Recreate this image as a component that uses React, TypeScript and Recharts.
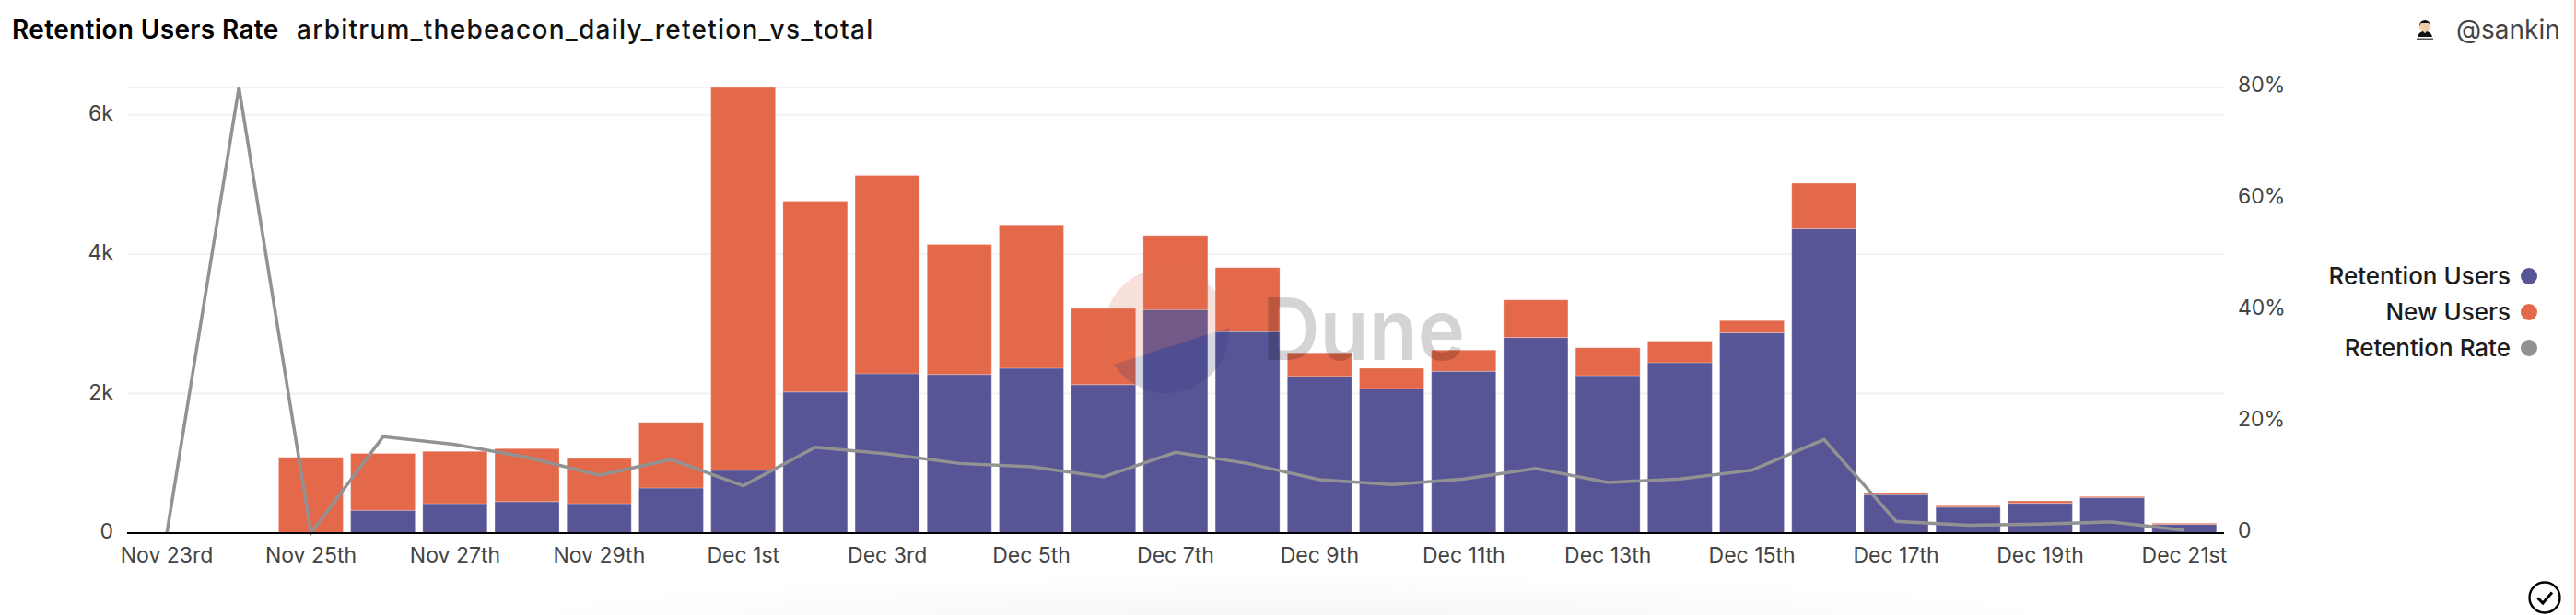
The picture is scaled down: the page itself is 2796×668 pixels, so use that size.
import React from 'react';
import { ComposedChart, Bar, Line, XAxis, YAxis, CartesianGrid, Legend } from 'recharts';

const days = [
  'Nov 23rd', 'Nov 24th', 'Nov 25th', 'Nov 26th', 'Nov 27th', 'Nov 28th', 'Nov 29th', 'Nov 30th',
  'Dec 1st', 'Dec 2nd', 'Dec 3rd', 'Dec 4th', 'Dec 5th', 'Dec 6th', 'Dec 7th', 'Dec 8th', 'Dec 9th',
  'Dec 10th', 'Dec 11th', 'Dec 12th', 'Dec 13th', 'Dec 14th', 'Dec 15th', 'Dec 16th', 'Dec 17th',
  'Dec 18th', 'Dec 19th', 'Dec 20th', 'Dec 21st',
];
const retentionUsers = [
  0, 4, 0, 327, 423, 451, 423, 648, 901, 2023, 2287, 2276, 2366, 2130, 3206, 2890, 2248, 2073, 2321,
  2806, 2259, 2445, 2873, 4366, 552, 372, 428, 507, 124,
];
const totalUsers = [
  4, 5, 1087, 1144, 1172, 1211, 1070, 1589, 6394, 4761, 5132, 4141, 4423, 3223, 4270, 3808, 2586, 2366,
  2625, 3346, 2659, 2755, 3048, 5020, 580, 394, 462, 524, 141,
];
const retentionRate = [
  0, 80, 0, 17.3, 15.9, 13.6, 10.4, 13.2, 8.5, 15.4, 14.2, 12.5, 11.9, 10.1, 14.5, 12.5, 9.6, 8.7, 9.7,
  11.6, 9.1, 9.7, 11.3, 16.8, 2.1, 1.4, 1.6, 2.0, 0.5,
];
const leftTicks = [0, 2000, 4000, 6000];
const rightTicks = [0, 20, 40, 60, 80];

const data = days.map((day, i) => ({
  day,
  retention: retentionUsers[i],
  newUsers: totalUsers[i] - retentionUsers[i],
  rate: retentionRate[i],
}));

const FONT = 'Inter, sans-serif';
const PURPLE = '#585596';
const ORANGE = '#e3694a';
const GRAY = '#929292';

const text = (left: number, top: number, s: React.CSSProperties = {}): React.CSSProperties => ({
  position: 'absolute',
  left,
  top,
  fontFamily: FONT,
  whiteSpace: 'nowrap',
  ...s,
});

const LegendList = ({ payload }: any) => (
  <div style={{ fontFamily: FONT }}>
    {(payload || []).map((p: any) => (
      <div
        key={p.value}
        style={{ display: 'flex', justifyContent: 'flex-end', alignItems: 'center', height: 39, fontSize: 26, fontWeight: 500, color: '#1c1c1c' }}
      >
        <span>{p.value}</span>
        <span style={{ width: 18, height: 18, borderRadius: 9, background: p.color, marginLeft: 11 }} />
      </div>
    ))}
  </div>
);

const Watermark = () => (
  <svg width={2796} height={668} style={{ position: 'absolute', left: 0, top: 0, pointerEvents: 'none' }}>
    <path d="M1209 396 L1334 356 A68 68 0 1 0 1209 396 Z" fill="rgba(227,105,74,0.2)" />
    <path d="M1209 396 L1334 356 A68 68 0 0 1 1209 396 Z" fill="rgba(40,50,120,0.2)" />
    <text x={1370} y={391} fontFamily={FONT} fontSize={93} fontWeight={600} fill="rgba(0,0,0,0.17)" textLength={220} lengthAdjust="spacingAndGlyphs">
      Dune
    </text>
  </svg>
);

const Avatar = () => (
  <svg width={20} height={26} style={{ position: 'absolute', left: 2622, top: 19 }}>
    <circle cx={10} cy={10} r={6} fill="#f0cdaa" />
    <path d="M4 9 A6 6 0 0 1 16 9 L14 6 L6 6 Z" fill="#111" />
    <path d="M2 21 Q3 16 8 15 L10 17 L12 15 Q17 16 18 21 Z" fill="#111" />
    <rect x={1} y={22.5} width={18} height={1.5} fill="#555" />
  </svg>
);

const CheckIcon = () => (
  <svg width={40} height={40} style={{ position: 'absolute', left: 2742, top: 629 }}>
    <circle cx={20} cy={20} r={16.5} fill="none" stroke="#000" strokeWidth={2.4} />
    <path d="M12.5 20.5 L18 26 L28 14.5" fill="none" stroke="#000" strokeWidth={3} />
  </svg>
);

export default function App() {
  return (
    <div style={{ position: 'absolute', left: 0, top: 0, width: 2796, height: 668, overflow: 'hidden', background: '#fff' }}>
      <div style={{ position: 'absolute', left: 550, top: 625, width: 1700, height: 43, background: 'radial-gradient(ellipse 50% 100% at 50% 100%, #f6f6f6, #ffffff)' }} />
      <ComposedChart
        width={2796}
        height={668}
        data={data}
        barCategoryGap={4}
        margin={{ top: 95, right: 322, bottom: 49, left: 78 }}
        style={{ position: 'absolute', left: 0, top: 0 }}
      >
        <CartesianGrid yAxisId="left" vertical={false} stroke="#f2f2f2" strokeWidth={2} />
        <XAxis
          dataKey="day"
          interval={1}
          height={40}
          padding={{ left: 4, right: 4 }}
          axisLine={{ stroke: '#000', strokeWidth: 2 }}
          tickLine={false}
          tickMargin={10}
          tick={{ fontSize: 23, fill: '#444', fontFamily: FONT }}
        />
        <YAxis
          yAxisId="left"
          width={60}
          domain={[0, 6394]}
          ticks={leftTicks}
          axisLine={false}
          tickLine={false}
          tickMargin={9}
          tickFormatter={(v: number) => (v === 0 ? '0' : `${v / 1000}k`)}
          tick={{ fontSize: 23, fill: '#444', fontFamily: FONT, dy: -2 }}
        />
        <YAxis
          yAxisId="right"
          orientation="right"
          width={60}
          domain={[0, 80]}
          ticks={rightTicks}
          axisLine={false}
          tickLine={false}
          tickMargin={9}
          tickFormatter={(v: number) => (v === 0 ? '0' : `${v}%`)}
          tick={{ fontSize: 23, fill: '#444', fontFamily: FONT, dy: -3 }}
        />
        <Bar yAxisId="left" dataKey="retention" name="Retention Users" stackId="a" fill={PURPLE} stroke="rgba(255,255,255,0.25)" isAnimationActive={false} />
        <Bar yAxisId="left" dataKey="newUsers" name="New Users" stackId="a" fill={ORANGE} stroke="rgba(255,255,255,0.25)" isAnimationActive={false} />
        <Line yAxisId="right" dataKey="rate" name="Retention Rate" stroke={GRAY} strokeWidth={3.5} dot={false} isAnimationActive={false} />
        <Legend
          layout="vertical"
          align="center"
          verticalAlign="middle"
          itemSorter={null}
          content={<LegendList />}
          wrapperStyle={{ left: 2400, top: 280, width: 354, height: 117 }}
        />
      </ComposedChart>
      <Watermark />
      <div style={text(13, 15, { fontSize: 28, fontWeight: 600, color: '#000', letterSpacing: 0.35 })}>Retention Users Rate</div>
      <div style={text(322, 15, { fontSize: 28, fontWeight: 500, color: '#111', letterSpacing: 1.25 })}>arbitrum_thebeacon_daily_retetion_vs_total</div>
      <Avatar />
      <div style={text(2666, 15, { fontSize: 28, fontWeight: 400, color: '#444' })}>@sankin</div>
      <CheckIcon />
      <div style={{ position: 'absolute', left: 2794, top: 0, width: 2, height: 668, background: '#f6bdb8' }} />
    </div>
  );
}
